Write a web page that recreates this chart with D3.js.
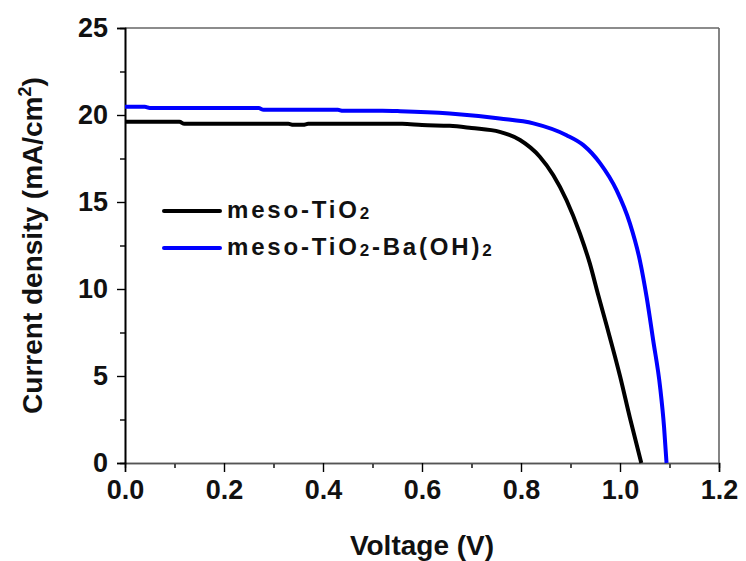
<!DOCTYPE html>
<html>
<head>
<meta charset="utf-8">
<script src="https://cdn.jsdelivr.net/npm/d3@7"></script>
<style>
  html, body { margin: 0; padding: 0; background: #fff; }
  svg { display: block; font-family: Arial, "Liberation Sans", sans-serif; }
</style>
</head>
<body>
<svg id="chart" width="746" height="561"></svg>
<script>
// ---- data ----
const seriesNames = ["meso-TiO2", "meso-TiO2-Ba(OH)2"];
const seriesColors = ["#000000", "#0000ff"];

const voltageA = [0, 0.11, 0.12, 0.33, 0.34, 0.36, 0.37, 0.56, 0.60, 0.656, 0.70, 0.757, 0.798, 0.838, 0.865, 0.892, 0.919, 0.939, 0.956, 0.973, 1.0, 1.02, 1.043];
const currentA = [19.61, 19.61, 19.49, 19.49, 19.44, 19.44, 19.49, 19.49, 19.42, 19.38, 19.25, 19.03, 18.56, 17.6, 16.55, 15.1, 13.19, 11.47, 9.65, 7.9, 5.0, 2.6, 0];

const voltageB = [0, 0.04, 0.05, 0.27, 0.28, 0.43, 0.44, 0.52, 0.556, 0.656, 0.757, 0.825, 0.892, 0.926, 0.960, 0.993, 1.020, 1.040, 1.054, 1.067, 1.081, 1.089, 1.094];
const currentB = [20.47, 20.47, 20.40, 20.40, 20.30, 20.30, 20.24, 20.24, 20.22, 20.09, 19.8, 19.52, 18.84, 18.27, 17.22, 15.68, 13.77, 11.66, 9.5, 7.06, 4.37, 2.07, 0];

const xTicks = [0, 0.2, 0.4, 0.6, 0.8, 1.0, 1.2];
const xMinorTicks = [0.1, 0.3, 0.5, 0.7, 0.9, 1.1];
const yTicks = [0, 5, 10, 15, 20, 25];
const yMinorTicks = [2.5, 7.5, 12.5, 17.5, 22.5];

// ---- layout ----
const svg = d3.select("#chart");
const pLeft = 125, pRight = 719, pTop = 28, pBottom = 463;

const x = d3.scaleLinear().domain([0, 1.2]).range([pLeft, pRight]);
const y = d3.scaleLinear().domain([0, 25]).range([pBottom, pTop]);

// frame (top/right)
svg.append("line").attr("x1", pLeft).attr("x2", pRight).attr("y1", pTop).attr("y2", pTop)
  .attr("stroke", "#666").attr("stroke-width", 1.6);
svg.append("line").attr("x1", pRight).attr("x2", pRight).attr("y1", pTop).attr("y2", pBottom)
  .attr("stroke", "#666").attr("stroke-width", 1.6);

// axes
const xAxis = d3.axisBottom(x).tickValues(xTicks).tickFormat(d3.format(".1f")).tickSize(9).tickPadding(8);
const xMinor = d3.axisBottom(x).tickValues(xMinorTicks).tickFormat("").tickSize(5);
const yAxis = d3.axisLeft(y).tickValues(yTicks).tickFormat(d3.format("d")).tickSize(8).tickPadding(9);
const yMinor = d3.axisLeft(y).tickValues(yMinorTicks).tickFormat("").tickSize(5);

function styleAxis(g, color) {
  g.select(".domain").attr("stroke", color).attr("stroke-width", 1.6);
  g.selectAll(".tick line").attr("stroke", "#000").attr("stroke-width", 1.4);
  g.selectAll(".tick text").attr("font-size", 27).attr("font-weight", "bold")
    .attr("fill", "#111").attr("font-family", "Arial, 'Liberation Sans', sans-serif");
}

svg.append("g").attr("transform", `translate(0,${pBottom})`).call(xMinor).call(g => styleAxis(g, "#555"));
svg.append("g").attr("transform", `translate(0,${pBottom})`).call(xAxis).call(g => styleAxis(g, "#555"));
svg.append("g").attr("transform", `translate(${pLeft},0)`).call(yMinor).call(g => styleAxis(g, "#000"));
svg.append("g").attr("transform", `translate(${pLeft},0)`).call(yAxis).call(g => styleAxis(g, "#000"));

// curves
const line = d3.line().x(d => x(d[0])).y(d => y(d[1])).curve(d3.curveMonotoneX);
const dataA = voltageA.map((v, i) => [v, currentA[i]]);
const dataB = voltageB.map((v, i) => [v, currentB[i]]);

svg.append("path").datum(dataA).attr("d", line).attr("fill", "none")
  .attr("stroke", seriesColors[0]).attr("stroke-width", 4);
svg.append("path").datum(dataB).attr("d", line).attr("fill", "none")
  .attr("stroke", seriesColors[1]).attr("stroke-width", 4);

// legend
const legendY = [211, 248];
function subText(sel, str) {
  const parts = str.split(/(2)/);
  let lowered = false;
  parts.forEach(p => {
    if (p === "2") {
      sel.append("tspan").text("2").attr("font-size", 17).attr("dy", 1);
      lowered = true;
    } else if (p.length) {
      sel.append("tspan").text(p).attr("font-size", 24).attr("dy", lowered ? -1 : 0);
      lowered = false;
    }
  });
}
seriesNames.forEach((name, i) => {
  svg.append("line").attr("x1", 164).attr("x2", 220).attr("y1", legendY[i]).attr("y2", legendY[i])
    .attr("stroke", seriesColors[i]).attr("stroke-width", 4).attr("stroke-linecap", "round");
  const t = svg.append("text").attr("x", 227).attr("y", legendY[i] + 6.5)
    .attr("font-weight", "bold").attr("fill", "#111").attr("letter-spacing", 2.8);
  subText(t, name);
});

// axis titles
svg.append("text").attr("x", (pLeft + pRight) / 2).attr("y", 555).attr("text-anchor", "middle")
  .attr("font-size", 28).attr("font-weight", "bold").attr("fill", "#111").text("Voltage (V)");

const yt = svg.append("text").attr("transform", `translate(42,${(pTop + pBottom) / 2}) rotate(-90)`)
  .attr("text-anchor", "middle").attr("font-size", 28).attr("font-weight", "bold").attr("fill", "#111");
yt.append("tspan").text("Current density (mA/cm");
yt.append("tspan").text("2").attr("font-size", 18).attr("dy", -11);
yt.append("tspan").text(")").attr("dy", 11);
</script>
</body>
</html>
